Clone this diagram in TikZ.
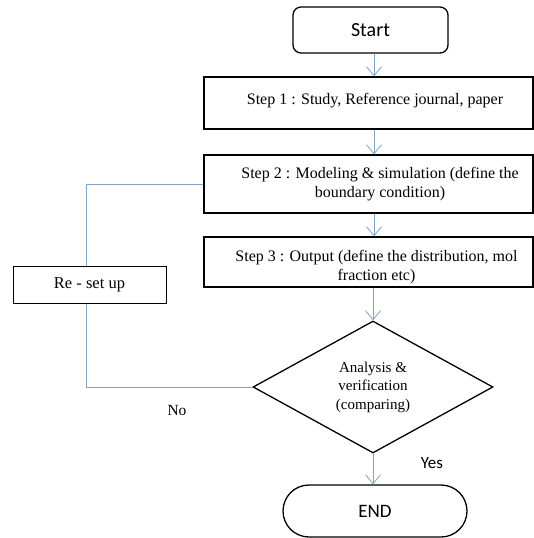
\documentclass[tikz,border=0pt]{standalone}
\usepackage{fontspec}
\setmainfont{Liberation Serif}
\newfontfamily\sansf{Carlito}
\usetikzlibrary{arrows.meta,shapes.geometric}
\definecolor{connblue}{HTML}{7FA4C8}
\newcommand\shiftedtext[3]{\hspace*{#1}\raisebox{#2}[\height][\depth]{\begin{tabular}{@{}c@{}}#3\end{tabular}}}
\begin{document}
\begin{tikzpicture}[x=1pt,y=-1pt,
  stepbox/.style={draw=black,line width=1.3pt,rectangle,minimum width=329pt,align=center,inner sep=2pt,font=\fontsize{16}{19}\selectfont},
  term/.style={draw=black,line width=1.3pt,rectangle,align=center,font=\sansf\fontsize{20}{24}\selectfont},
  decide/.style={draw=black,line width=1.3pt,diamond,aspect=1.8,inner sep=0pt,minimum width=240pt,minimum height=132pt,align=center,font=\fontsize{15}{18.5}\selectfont},
  conn/.style={draw=connblue,line width=0.8pt},
  arr/.style={conn,-{Straight Barb[length=9pt,width=15pt,line width=0.8pt]}},
  lbl/.style={inner sep=0pt}]
\useasboundingbox (0,0) rectangle (534,538);
\node[term,minimum width=155pt,minimum height=46pt,rounded corners=8pt] (start) at (370.5,30) {Start};
\node[stepbox,minimum height=52pt] (s1) at (368.5,103) {\shiftedtext{13pt}{2pt}{Step 1 : Study, Reference journal, paper}};
\node[stepbox,minimum height=58pt] (s2) at (368.5,184) {\shiftedtext{23pt}{0pt}{Step 2 : Modeling \& simulation (define the\\boundary condition)}};
\node[stepbox,minimum height=50pt] (s3) at (368.5,262) {\shiftedtext{16pt}{-5pt}{Step 3 : Output (define the distribution, mol\\fraction etc)}};
\node[decide] (dec) at (373,387) {Analysis \&\\verification\\(comparing)};
\node[term,font=\sansf\fontsize{19}{23}\selectfont,minimum width=184pt,minimum height=52pt,rounded corners=26pt] (end) at (375,511) {END};
\node[draw=black,line width=1pt,rectangle,minimum width=153pt,minimum height=37pt,font=\fontsize{16.5}{19}\selectfont] (reset) at (89.5,284.5) {Re - set up};
\node[lbl,font=\fontsize{15.5}{18}\selectfont] (no) at (177,410) {No};
\node[lbl,font=\sansf\fontsize{17}{20}\selectfont] (yes) at (432,463) {Yes};
\draw[arr] (start.south -| 374,0) -- (s1.north -| 374,0);
\draw[arr] (s1.south -| 374,0) -- (s2.north -| 374,0);
\draw[arr] (s2.south -| 374,0) -- (s3.north -| 374,0);
\draw[arr] (s3.south -| dec.north) -- (dec.north);
\draw[arr] (dec.south) -- (end.north -| dec.south);
\draw[conn] (dec.west) -| (reset.south -| 86,0);
\draw[conn] (reset.north -| 86,0) |- (s2.west);
\end{tikzpicture}
\end{document}
